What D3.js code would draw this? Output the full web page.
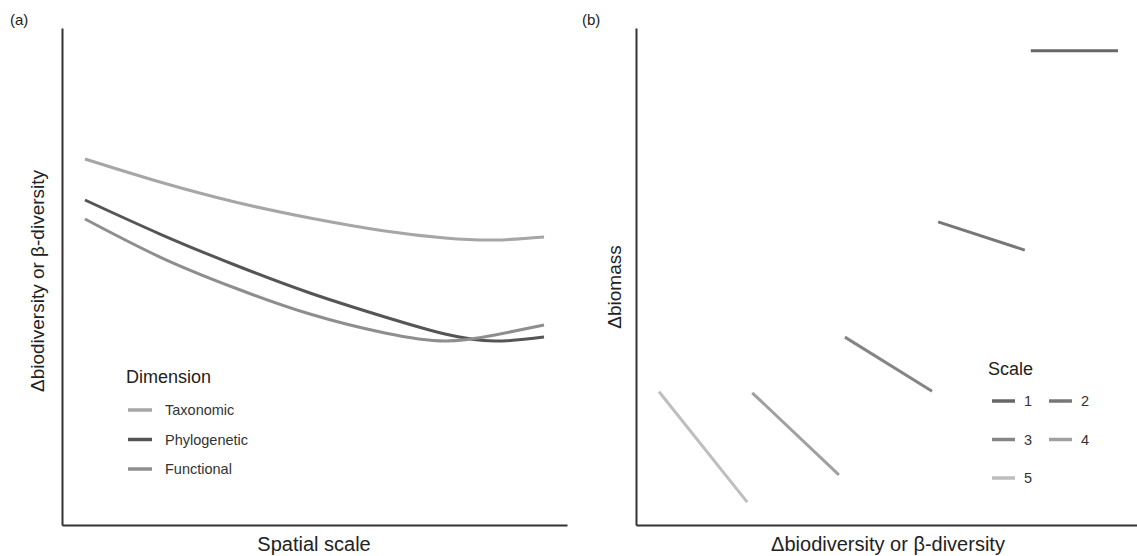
<!DOCTYPE html>
<html>
<head>
<meta charset="utf-8">
<script src="https://cdn.jsdelivr.net/npm/d3@7"></script>
<style>
  body { margin: 0; background: #fff; }
  text { font-family: "Liberation Sans", Arial, sans-serif; fill: #222; }
</style>
</head>
<body>
<script>
// panel (a): diversity along spatial scale
const scaleX = [4.55, 19.4, 34.26, 49.1, 63.96, 75.84, 85.74, 95.45];
const taxonomic = [73.64, 69.01, 64.99, 61.77, 59.15, 57.75, 57.34, 57.95];
const phylogenetic = [65.39, 58.55, 52.31, 46.68, 41.85, 38.43, 37.02, 37.83];
const functional = [61.57, 53.92, 47.69, 42.45, 38.63, 37.02, 38.23, 40.24];
const dimensions = ['Taxonomic', 'Phylogenetic', 'Functional'];

// panel (b): one segment per scale
const scales = ['1', '2', '3', '4', '5'];
const segX0 = [78.8, 60.3, 41.7, 23.2, 4.6];
const segX1 = [96.2, 77.6, 59.1, 40.5, 22.2];
const segY0 = [95.4, 61.0, 37.8, 26.6, 26.8];
const segY1 = [95.4, 55.3, 26.9, 10.1, 4.6];

const width = 1137;
const height = 556;

const dimColor = d3.scaleOrdinal().domain(dimensions).range(['#a6a6a6', '#555555', '#8e8e8e']);
const scaleColor = d3.scaleOrdinal().domain(scales).range(['#676767', '#777777', '#858585', '#a0a0a0', '#bebebe']);

const svg = d3.select('body')
  .append('svg')
  .attr('width', width)
  .attr('height', height);

// ---- panel (a)
const xa = d3.scaleLinear().domain([0, 100]).range([62, 567]);
const ya = d3.scaleLinear().domain([0, 100]).range([525, 28]);

const ga = svg.append('g');

ga.append('text').attr('x', 10).attr('y', 25).style('font-size', '15px').text('(a)');

const series = [taxonomic, phylogenetic, functional];
const lineA = d3.line()
  .x((d, i) => xa(scaleX[i]))
  .y((d) => ya(d))
  .curve(d3.curveNatural);

ga.selectAll('path.curve')
  .data(series)
  .enter().append('path')
  .attr('class', 'curve')
  .attr('d', (d) => lineA(d))
  .attr('fill', 'none')
  .attr('stroke', (d, i) => dimColor(dimensions[i]))
  .attr('stroke-width', 3);

// axes lines, no ticks
ga.append('g')
  .attr('transform', `translate(0,${ya(0)})`)
  .call(d3.axisBottom(xa).tickSize(0).tickValues([]))
  .call((g) => g.select('.domain').attr('stroke', '#333').attr('stroke-width', 2));
ga.append('g')
  .attr('transform', `translate(${xa(0)},0)`)
  .call(d3.axisLeft(ya).tickSize(0).tickValues([]))
  .call((g) => g.select('.domain').attr('stroke', '#333').attr('stroke-width', 2));

ga.append('text')
  .attr('x', 314).attr('y', 551)
  .attr('text-anchor', 'middle')
  .style('font-size', '20px')
  .text('Spatial scale');

ga.append('text')
  .attr('transform', 'translate(44,281) rotate(-90)')
  .attr('text-anchor', 'middle')
  .style('font-size', '19px')
  .text('Δbiodiversity or β-diversity');

// legend (a)
const legA = ga.append('g').attr('transform', 'translate(126,0)');
legA.append('text').attr('x', 0).attr('y', 383).style('font-size', '18px').text('Dimension');
const itemA = legA.selectAll('g.item')
  .data(dimensions)
  .enter().append('g')
  .attr('class', 'item')
  .attr('transform', (d, i) => `translate(0,${410 + i * 29.5})`);
itemA.append('line')
  .attr('x1', 2).attr('x2', 26)
  .attr('stroke', (d) => dimColor(d))
  .attr('stroke-width', 3.5);
itemA.append('text')
  .attr('x', 39).attr('y', 5)
  .style('font-size', '14.5px')
  .style('fill', '#333')
  .text((d) => d);

// ---- panel (b)
const xb = d3.scaleLinear().domain([0, 100]).range([636, 1137]);
const yb = d3.scaleLinear().domain([0, 100]).range([525, 28]);

const gb = svg.append('g');

gb.append('text').attr('x', 582).attr('y', 25).style('font-size', '15px').text('(b)');

gb.selectAll('line.seg')
  .data(scales)
  .enter().append('line')
  .attr('class', 'seg')
  .attr('x1', (d, i) => xb(segX0[i]))
  .attr('x2', (d, i) => xb(segX1[i]))
  .attr('y1', (d, i) => yb(segY0[i]))
  .attr('y2', (d, i) => yb(segY1[i]))
  .attr('stroke', (d) => scaleColor(d))
  .attr('stroke-width', 3);

gb.append('g')
  .attr('transform', `translate(0,${yb(0)})`)
  .call(d3.axisBottom(xb).tickSize(0).tickValues([]))
  .call((g) => g.select('.domain').attr('stroke', '#333').attr('stroke-width', 2));
gb.append('g')
  .attr('transform', `translate(${xb(0)},0)`)
  .call(d3.axisLeft(yb).tickSize(0).tickValues([]))
  .call((g) => g.select('.domain').attr('stroke', '#333').attr('stroke-width', 2));

gb.append('text')
  .attr('x', 888).attr('y', 551)
  .attr('text-anchor', 'middle')
  .style('font-size', '20px')
  .text('Δbiodiversity or β-diversity');

gb.append('text')
  .attr('transform', 'translate(621,287) rotate(-90)')
  .attr('text-anchor', 'middle')
  .style('font-size', '19px')
  .text('Δbiomass');

// legend (b), two columns
const legB = gb.append('g').attr('transform', 'translate(988,0)');
legB.append('text').attr('x', 0).attr('y', 375).style('font-size', '18px').text('Scale');
const itemB = legB.selectAll('g.item')
  .data(scales)
  .enter().append('g')
  .attr('class', 'item')
  .attr('transform', (d, i) => `translate(${(i % 2) * 57},${401 + Math.floor(i / 2) * 38.5})`);
itemB.append('line')
  .attr('x1', 4).attr('x2', 27)
  .attr('stroke', (d) => scaleColor(d))
  .attr('stroke-width', 3.5);
itemB.append('text')
  .attr('x', 36).attr('y', 5)
  .style('font-size', '14.5px')
  .style('fill', '#333')
  .text((d) => d);
</script>
</body>
</html>
